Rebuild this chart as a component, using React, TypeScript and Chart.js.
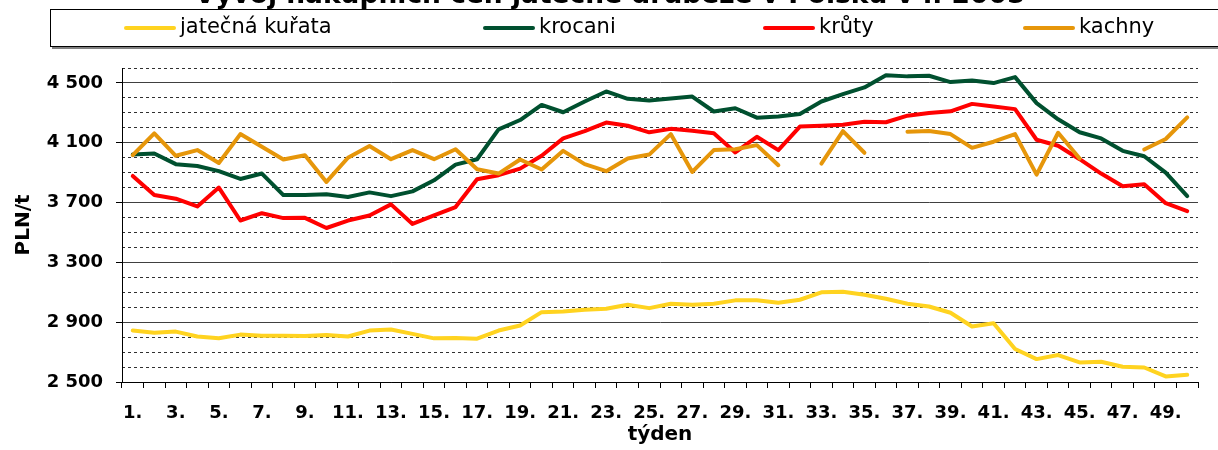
import React, { useEffect, useRef } from 'react';
import { Chart, registerables } from 'chart.js';

Chart.register(...registerables);

const chartTitle = 'Vývoj nákupních cen jatečné drůbeže v Polsku v r. 2005';
const xTitle = 'týden';
const yTitle = 'PLN/t';

const weeks = [
  '1.', '2.', '3.', '4.', '5.', '6.', '7.', '8.', '9.', '10.',
  '11.', '12.', '13.', '14.', '15.', '16.', '17.', '18.', '19.', '20.',
  '21.', '22.', '23.', '24.', '25.', '26.', '27.', '28.', '29.', '30.',
  '31.', '32.', '33.', '34.', '35.', '36.', '37.', '38.', '39.', '40.',
  '41.', '42.', '43.', '44.', '45.', '46.', '47.', '48.', '49.', '50.',
];

const seriesNames = ['jatečná kuřata', 'krocani', 'krůty', 'kachny'];

const kurata = [
  2844, 2830, 2837, 2804, 2792, 2817, 2810, 2810, 2808, 2815,
  2804, 2844, 2851, 2822, 2792, 2795, 2790, 2844, 2878, 2967,
  2972, 2983, 2990, 3017, 2994, 3023, 3017, 3023, 3046, 3046,
  3030, 3050, 3100, 3104, 3084, 3057, 3023, 3005, 2963, 2871,
  2893, 2721, 2653, 2680, 2631, 2635, 2602, 2597, 2537, 2548,
];

const krocani = [
  4021, 4028, 3957, 3945, 3910, 3858, 3894, 3750, 3750, 3755,
  3737, 3768, 3743, 3775, 3849, 3954, 3990, 4190, 4252, 4353,
  4304, 4376, 4443, 4394, 4383, 4396, 4409, 4309, 4331, 4268,
  4275, 4293, 4376, 4425, 4470, 4551, 4544, 4548, 4506, 4517,
  4499, 4539, 4365, 4257, 4170, 4129, 4046, 4010, 3900, 3743,
];

const kruty = [
  3878, 3750, 3726, 3674, 3800, 3580, 3629, 3596, 3598, 3530,
  3580, 3614, 3688, 3557, 3614, 3670, 3856, 3883, 3927, 4013,
  4129, 4178, 4235, 4214, 4170, 4193, 4181, 4163, 4035, 4140,
  4051, 4208, 4214, 4220, 4240, 4237, 4281, 4299, 4310, 4360,
  4342, 4325, 4120, 4080, 3990, 3894, 3809, 3822, 3696, 3643,
];

const kachny = [
  4017, 4163, 4013, 4051, 3965, 4158, 4073, 3988, 4017, 3838,
  4000, 4078, 3990, 4051, 3990, 4057, 3923, 3894, 3988, 3921,
  4046, 3957, 3910, 3995, 4021, 4158, 3905, 4051, 4057, 4084,
  3950, null, 3961, 4178, 4033, null, 4174, 4178, 4158, 4066,
  4107, 4158, 3887, 4167, 3995, null, null, 4055, 4125, 4270,
];

const yMajorTicks = [2500, 2900, 3300, 3700, 4100, 4500];
const yMin = 2500;
const yMax = 4600;
const yStep = 100;

const FONT = '"DejaVu Sans", Verdana, sans-serif';

const fmt = (v: number) => String(v).replace(/\B(?=(\d{3})+(?!\d))/g, ' ');
const isMajor = (v: number) => yMajorTicks.includes(v);

const decorPlugin = {
  id: 'decor',
  afterDraw(chart: any) {
    const ctx = chart.ctx as CanvasRenderingContext2D;
    ctx.save();
    // title (partly cut off at the top, as in the reference)
    ctx.font = `bold 26.5px ${FONT}`;
    ctx.fillStyle = '#000';
    ctx.textAlign = 'center';
    ctx.textBaseline = 'alphabetic';
    ctx.fillText(chartTitle, 610, 3);

    // legend box
    ctx.fillStyle = '#808080';
    ctx.fillRect(52, 47, 1170, 2);
    ctx.fillStyle = '#fff';
    ctx.fillRect(50, 9, 1172, 38);
    ctx.strokeStyle = '#000';
    ctx.lineWidth = 1;
    ctx.strokeRect(50.5, 9.5, 1190, 37);

    const xs = [126, 485, 765, 1025];
    chart.data.datasets.forEach((ds: any, i: number) => {
      ctx.strokeStyle = ds.borderColor;
      ctx.lineWidth = 4;
      ctx.lineCap = 'round';
      ctx.beginPath();
      ctx.moveTo(xs[i], 28);
      ctx.lineTo(xs[i] + 48, 28);
      ctx.stroke();
      ctx.font = `21px ${FONT}`;
      ctx.fillStyle = '#000';
      ctx.textAlign = 'left';
      ctx.textBaseline = 'middle';
      ctx.fillText(ds.label, xs[i] + 54, 28);
    });
    ctx.restore();
  },
};

export default function App() {
  const canvasRef = useRef<HTMLCanvasElement | null>(null);

  useEffect(() => {
    const canvas = canvasRef.current;
    if (!canvas) return;
    const colors = ['#FFD320', '#00502F', '#FF0000', '#E6960A'];
    const series = [kurata, krocani, kruty, kachny];
    const chart = new Chart(canvas, {
      type: 'line',
      data: {
        labels: weeks,
        datasets: series.map((data, i) => ({
          label: seriesNames[i],
          data,
          borderColor: colors[i],
          backgroundColor: colors[i],
          borderWidth: 4,
          pointRadius: 0,
          pointHoverRadius: 0,
          tension: 0,
          spanGaps: false,
          fill: false,
          borderJoinStyle: 'round' as const,
          borderCapStyle: 'round' as const,
          order: 3 - i,
        })),
      },
      options: {
        animation: false,
        responsive: false,
        maintainAspectRatio: false,
        events: [],
        layout: { padding: { top: 68, right: 20, bottom: 0, left: 0 } },
        plugins: {
          legend: { display: false },
          title: { display: false },
          tooltip: { enabled: false },
        },
        scales: {
          x: {
            type: 'category',
            offset: true,
            grid: {
              offset: true,
              drawOnChartArea: false,
              color: '#000',
              tickColor: '#000',
              tickLength: 6,
            },
            border: { color: '#000', width: 1 },
            ticks: {
              autoSkip: false,
              maxRotation: 0,
              minRotation: 0,
              padding: 15,
              color: '#000',
              font: { family: FONT, size: 18, weight: 'bold' },
              callback: (_v: any, i: number) => (i % 2 === 0 ? weeks[i] : ''),
            },
            title: {
              display: true,
              text: xTitle,
              color: '#000',
              font: { family: FONT, size: 20, weight: 'bold' },
              padding: { top: 0, bottom: 3 },
            },
            afterFit: (s: any) => {
              s.height = 68;
              s.paddingLeft = 0;
              s.paddingRight = 0;
            },
          },
          y: {
            type: 'linear',
            position: 'left',
            min: yMin,
            max: yMax,
            grid: {
              color: (c: any) => (c.tick && isMajor(c.tick.value) ? '#404040' : 'rgba(0,0,0,0)'),
              tickColor: (c: any) => (c.tick && isMajor(c.tick.value) ? '#000' : 'rgba(0,0,0,0)'),
              tickLength: 6,
              lineWidth: 1,
            },
            border: { color: '#000', width: 1 },
            ticks: {
              stepSize: yStep,
              maxTicksLimit: 100,
              autoSkip: false,
              padding: 13,
              color: '#000',
              font: { family: FONT, size: 18, weight: 'bold' },
              callback: (v: any) => (isMajor(Number(v)) ? fmt(Number(v)) : ''),
            },
            title: {
              display: true,
              text: yTitle,
              color: '#000',
              font: { family: FONT, size: 20, weight: 'bold' },
              padding: { top: 12, bottom: 0 },
            },
            afterFit: (s: any) => {
              s.width = 122;
              s.paddingTop = 0;
              s.paddingBottom = 0;
            },
          },
          yMinor: {
            type: 'linear',
            position: 'left',
            min: yMin,
            max: yMax,
            grid: {
              color: (c: any) => (c.tick && isMajor(c.tick.value) ? 'rgba(0,0,0,0)' : '#303030'),
              drawTicks: false,
              lineWidth: 1,
            },
            border: { display: false, dash: [3, 3] },
            ticks: {
              display: false,
              stepSize: yStep,
              maxTicksLimit: 100,
              autoSkip: false,
            },
            afterFit: (s: any) => {
              s.width = 0;
              s.paddingTop = 0;
              s.paddingBottom = 0;
            },
          },
        },
      } as any,
      plugins: [decorPlugin],
    });
    return () => chart.destroy();
  }, []);

  return (
    <div style={{ position: 'absolute', left: 0, top: 0, width: 1218, height: 450, background: '#fff' }}>
      <canvas ref={canvasRef} width={1218} height={450} style={{ display: 'block', width: 1218, height: 450 }} />
    </div>
  );
}
